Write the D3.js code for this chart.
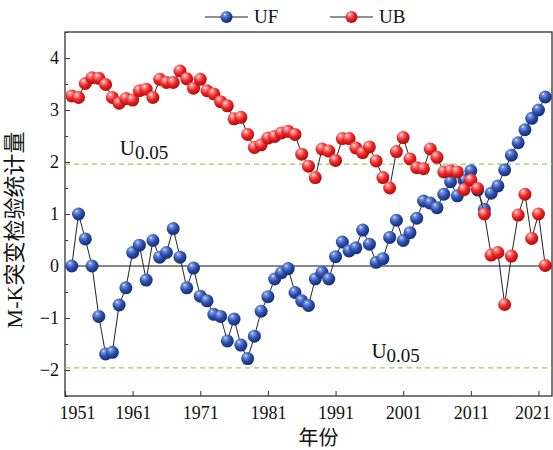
<!DOCTYPE html>
<html>
<head>
<meta charset="utf-8">
<script src="https://cdn.jsdelivr.net/npm/d3@7"></script>
<style>
	body { margin: 0; background: #fff; }
	text { font-family: "Liberation Serif", "Noto Sans CJK SC", serif; fill: #111; }
</style>
</head>
<body>
<div id="chart"></div>
<script>
var years = [1952,1953,1954,1955,1956,1957,1958,1959,1960,1961,1962,1963,1964,1965,1966,1967,1968,1969,1970,1971,
	1972,1973,1974,1975,1976,1977,1978,1979,1980,1981,1982,1983,1984,1985,1986,1987,1988,1989,1990,1991,
	1992,1993,1994,1995,1996,1997,1998,1999,2000,2001,2002,2003,2004,2005,2006,2007,2008,2009,2010,2011,
	2012,2013,2014,2015,2016,2017,2018,2019,2020,2021,2022];

var ufValues = [0,1.0,0.52,0,-0.97,-1.69,-1.66,-0.75,-0.42,0.26,0.40,-0.27,0.49,0.17,0.26,0.72,0.17,-0.42,-0.04,-0.58,
	-0.67,-0.93,-0.97,-1.44,-1.02,-1.52,-1.78,-1.35,-0.87,-0.59,-0.25,-0.13,-0.05,-0.51,-0.67,-0.76,-0.25,-0.12,-0.25,0.18,
	0.46,0.29,0.35,0.69,0.42,0.07,0.14,0.55,0.88,0.49,0.64,0.92,1.25,1.21,1.12,1.38,1.62,1.35,1.65,1.83,
	1.46,1.09,1.40,1.54,1.85,2.13,2.37,2.62,2.84,3.0,3.25];

var ubValues = [3.27,3.24,3.51,3.62,3.61,3.49,3.24,3.13,3.22,3.19,3.37,3.40,3.24,3.59,3.53,3.53,3.75,3.60,3.42,3.59,
	3.37,3.31,3.16,3.08,2.83,2.86,2.53,2.28,2.33,2.46,2.49,2.56,2.59,2.53,2.15,1.92,1.70,2.25,2.21,2.03,
	2.45,2.45,2.27,2.18,2.29,2.02,1.70,1.50,2.20,2.47,2.06,1.89,1.87,2.25,2.09,1.81,1.83,1.81,1.47,1.65,
	1.49,1.00,0.21,0.26,-0.74,0.19,0.98,1.38,0.53,1.00,0.01];

var xTickYears = [1951,1961,1971,1981,1991,2001,2011,2021];
var yTickValues = [-2,-1,0,1,2,3,4];
var yMinorValues = [-2.5,-1.5,-0.5,0.5,1.5,2.5,3.5,4.5];
var critical = 1.96;

var margin = { top: 32, left: 65, right: 1, bottom: 54 },
	fullWidth = 553, fullHeight = 450,
	width = fullWidth - margin.left - margin.right,
	height = fullHeight - margin.top - margin.bottom;

var svg = d3.select("#chart")
	.append("svg")
	.attr("width", fullWidth)
	.attr("height", fullHeight);

var defs = svg.append("defs");

function sphere(id, light, mid, dark) {
	var g = defs.append("radialGradient")
		.attr("id", id)
		.attr("cx", "38%").attr("cy", "32%").attr("r", "70%")
		.attr("fx", "35%").attr("fy", "28%");
	g.append("stop").attr("offset", "0%").attr("stop-color", "#ffffff");
	g.append("stop").attr("offset", "14%").attr("stop-color", light);
	g.append("stop").attr("offset", "55%").attr("stop-color", mid);
	g.append("stop").attr("offset", "100%").attr("stop-color", dark);
}
sphere("ballBlue", "#7f9be0", "#2c4fb0", "#142a72");
sphere("ballRed", "#ff9a9a", "#ee2424", "#a80c0c");

var chart = svg.append("g")
	.attr("transform", "translate(" + margin.left + "," + margin.top + ")");

var xPositionScale = d3.scaleLinear().domain([1951, 2023]).range([0, width]);
var yPositionScale = d3.scaleLinear().domain([-2.5, 4.5]).range([height, 0]);

// minor ticks on y
chart.append("g")
	.attr("class", "axis y-minor")
	.call(d3.axisLeft(yPositionScale).tickValues(yMinorValues).tickSize(-3).tickFormat(""))
	.call(function(g) { g.select(".domain").remove(); })
	.selectAll("line").attr("stroke", "#333");

var yAxis = d3.axisLeft(yPositionScale)
	.tickValues(yTickValues)
	.tickSize(-5)
	.tickPadding(6)
	.tickFormat(function(d) { return d < 0 ? "\u2212" + Math.abs(d) : d; });
chart.append("g")
	.attr("class", "axis y-axis")
	.call(yAxis)
	.call(function(g) { g.select(".domain").remove(); })
	.call(function(g) {
		g.selectAll("line").attr("stroke", "#333");
		g.selectAll("text").attr("font-size", 18).attr("font-family", "Liberation Serif").attr("fill", "#111");
	});

var xAxis = d3.axisBottom(xPositionScale)
	.tickValues(xTickYears)
	.tickSize(-5)
	.tickPadding(10)
	.tickFormat(d3.format("d"));
chart.append("g")
	.attr("class", "axis x-axis")
	.attr("transform", "translate(0," + height + ")")
	.call(xAxis)
	.call(function(g) { g.select(".domain").remove(); })
	.call(function(g) {
		g.selectAll("line").attr("stroke", "#333");
		g.selectAll("text").attr("font-size", 18).attr("font-family", "Liberation Serif").attr("fill", "#111")
			.attr("dx", function(d) {
				if (d == 1951) return 12;
				if (d == 2021) return -6;
				return 0;
			});
	});

// frame
chart.append("rect")
	.attr("x", 0).attr("y", 0)
	.attr("width", width).attr("height", height)
	.attr("fill", "none")
	.attr("stroke", "#333")
	.attr("stroke-width", 1.3);

// critical lines
chart.selectAll(".crit")
	.data([critical, -critical])
	.enter()
	.append("line")
	.attr("class", "crit")
	.attr("x1", 0).attr("x2", width)
	.attr("y1", function(d) { return yPositionScale(d); })
	.attr("y2", function(d) { return yPositionScale(d); })
	.attr("stroke", "#8fd14f")
	.attr("stroke-width", 1.2)
	.attr("stroke-dasharray", "5,4");

// zero line
chart.append("line")
	.attr("x1", 0).attr("x2", width)
	.attr("y1", yPositionScale(0)).attr("y2", yPositionScale(0))
	.attr("stroke", "#111")
	.attr("stroke-width", 1.2);

// U0.05 labels
function uLabel(x, y) {
	var t = chart.append("text")
		.attr("x", x).attr("y", y)
		.attr("font-size", 21);
	t.append("tspan").text("U");
	t.append("tspan").attr("dy", 4).attr("font-size", 19).text("0.05");
}
uLabel(xPositionScale(1959.1), yPositionScale(2.13));
uLabel(xPositionScale(1996.3), yPositionScale(-1.77));

var line = d3.line()
	.x(function(d) { return xPositionScale(d.year); })
	.y(function(d) { return yPositionScale(d.value); });

var ufData = years.map(function(y, i) { return { year: y, value: ufValues[i] }; });
var ubData = years.map(function(y, i) { return { year: y, value: ubValues[i] }; });

function drawSeries(data, fill, cls) {
	chart.append("path")
		.datum(data)
		.attr("d", line)
		.attr("fill", "none")
		.attr("stroke", "#222")
		.attr("stroke-width", 1);

	chart.selectAll("." + cls)
		.data(data)
		.enter()
		.append("circle")
		.attr("class", cls)
		.attr("r", 6.5)
		.attr("cx", function(d) { return xPositionScale(d.year); })
		.attr("cy", function(d) { return yPositionScale(d.value); })
		.attr("fill", "url(#" + fill + ")");
}
drawSeries(ufData, "ballBlue", "uf-circle");
drawSeries(ubData, "ballRed", "ub-circle");

// axis titles
svg.append("text")
	.attr("transform", "translate(22," + (margin.top + height / 2 + 16) + ") rotate(-90)")
	.attr("text-anchor", "middle")
	.attr("font-size", 22)
	.text("M-K突变检验统计量");

svg.append("text")
	.attr("x", margin.left + width / 2 + 10)
	.attr("y", 445)
	.attr("text-anchor", "middle")
	.attr("font-size", 20)
	.text("年份");

// legend
var legendItems = [
	{ name: "UF", fill: "ballBlue", x: 205 },
	{ name: "UB", fill: "ballRed", x: 330 }
];
var legend = svg.selectAll(".legend")
	.data(legendItems)
	.enter()
	.append("g")
	.attr("class", "legend")
	.attr("transform", function(d) { return "translate(" + d.x + ",17)"; });
legend.append("line")
	.attr("x1", 0).attr("x2", 43)
	.attr("stroke", "#222").attr("stroke-width", 1.2);
legend.append("circle")
	.attr("cx", 21.5).attr("r", 6)
	.attr("fill", function(d) { return "url(#" + d.fill + ")"; });
legend.append("text")
	.attr("x", 49)
	.attr("y", 6)
	.attr("font-size", 19)
	.text(function(d) { return d.name; });
</script>
</body>
</html>
